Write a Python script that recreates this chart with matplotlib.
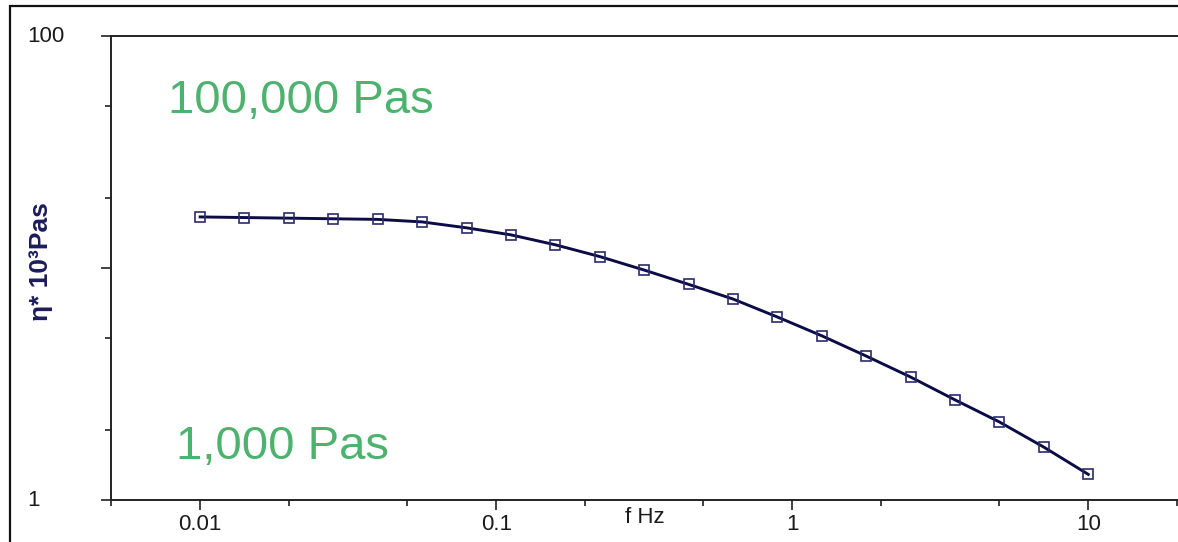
import matplotlib
matplotlib.use('Agg')
import matplotlib.pyplot as plt
import matplotlib.ticker as ticker
from matplotlib.patches import Rectangle

plt.rcParams['font.family'] = ['Liberation Sans', 'DejaVu Sans']

# frequency (Hz) and complex viscosity (10^3 Pas)
freq = [0.01, 0.0141, 0.02, 0.0282, 0.0398, 0.0562, 0.0794, 0.112, 0.158,
        0.224, 0.316, 0.447, 0.631, 0.891, 1.26, 1.78, 2.51, 3.55, 5.01,
        7.08, 10.0]
eta = [16.6, 16.5, 16.4, 16.3, 16.2, 15.8, 14.9, 13.9, 12.6, 11.2, 9.8,
       8.5, 7.35, 6.15, 5.1, 4.17, 3.39, 2.7, 2.17, 1.69, 1.29]

xticks = [0.01, 0.1, 1, 10]
xticklabels = ['0.01', '0.1', '1', '10']
yticklabels = {1: '1', 100: '100'}

W, H = 1178, 542
fig = plt.figure(figsize=(W / 100, H / 100), dpi=100)
ax = fig.add_axes([111 / W, 42 / H, (W - 111) / W, 464 / H])

line_col = '#0b0b45'
ax.plot(freq, eta, color=line_col, lw=2.1, marker='s', markersize=7.6,
        markerfacecolor='none', markeredgecolor='#2b2b6b', markeredgewidth=1.2)

ax.set_xscale('log')
ax.set_yscale('log')
ax.set_xlim(0.005, 20.1)
ax.set_ylim(1, 100)

ax.xaxis.set_major_locator(ticker.FixedLocator(xticks))
ax.xaxis.set_major_formatter(ticker.FixedFormatter(xticklabels))
ax.xaxis.set_minor_locator(ticker.LogLocator(base=10, subs=(2, 5), numticks=20))
ax.xaxis.set_minor_formatter(ticker.NullFormatter())
ax.yaxis.set_major_locator(ticker.FixedLocator([1, 10, 100]))
ax.yaxis.set_major_formatter(ticker.NullFormatter())
ax.yaxis.set_minor_locator(ticker.LogLocator(base=10, subs=(2, 5), numticks=20))
ax.yaxis.set_minor_formatter(ticker.NullFormatter())

ax.tick_params(which='major', length=7, width=1.3, color='#333333',
               labelsize=16, labelcolor='#1a1a1a', pad=3)
ax.tick_params(which='minor', length=4.5, width=1.3, color='#333333')

for s in ['left', 'bottom', 'top']:
    ax.spines[s].set_linewidth(1.4)
    ax.spines[s].set_color('#222222')
ax.spines['right'].set_visible(False)

for v, lab in yticklabels.items():
    ax.text(-84 / 1067, v, lab, transform=ax.get_yaxis_transform(),
            ha='left', va='center', fontsize=16, color='#1a1a1a')

ax.set_xlabel('f Hz', fontsize=16, color='#1a1a1a')
ax.xaxis.set_label_coords(0.5, -0.016)

fig.text(41 / W, 1 - 262 / H, 'η* 10³Pas', rotation=90, ha='center',
         va='center', fontsize=19, color='#1c1c5c', fontweight='bold')

green = '#4cb26e'
fig.text(168 / W, 1 - 113 / H, '100,000 Pas', fontsize=34, color=green,
         ha='left', va='baseline')
fig.text(176 / W, 1 - 459 / H, '1,000 Pas', fontsize=34, color=green,
         ha='left', va='baseline')

# outer frame
fig.patches.append(Rectangle((9.5 / W, -0.2), 2, 1.2 - 5.5 / H,
                             transform=fig.transFigure, fill=False,
                             lw=1.6, edgecolor='#111111'))

fig.savefig('out.png', dpi=100)
